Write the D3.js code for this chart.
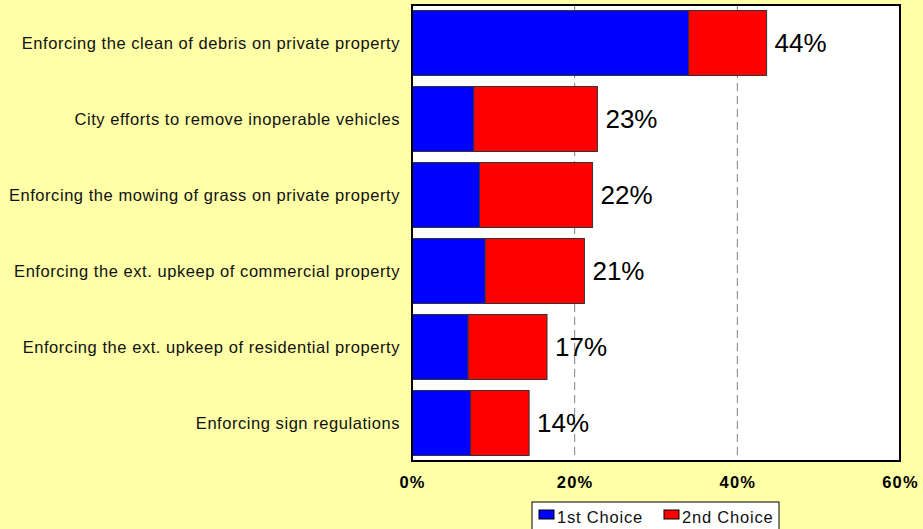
<!DOCTYPE html>
<html>
<head>
<meta charset="utf-8">
<script src="https://cdn.jsdelivr.net/npm/d3@7/dist/d3.min.js"></script>
<style>
  html, body { margin: 0; padding: 0; background: #FFFFA8; }
  svg { display: block; }
  text { font-family: "Liberation Sans", Arial, sans-serif; }
</style>
</head>
<body>
<svg id="chart" width="923" height="529"></svg>
<script>
// Priorities for code enforcement: share of respondents naming each item
const categories = [
  "Enforcing the clean of debris on private property",
  "City efforts to remove inoperable vehicles",
  "Enforcing the mowing of grass on private property",
  "Enforcing the ext. upkeep of commercial property",
  "Enforcing the ext. upkeep of residential property",
  "Enforcing sign regulations"
];
const firstChoice  = [34.0, 7.6, 8.3, 9.0, 6.9, 7.2];
const secondChoice = [9.6, 15.2, 13.9, 12.2, 9.7, 7.2];
const seriesNames  = ["1st Choice", "2nd Choice"];
const seriesColors = ["#0000FF", "#FF0000"];
const xTicks = [0, 20, 40, 60];

const svg = d3.select("#chart");
const W = 923, H = 529;
const plot = { left: 412, right: 900, top: 5, bottom: 461 };

svg.append("rect").attr("width", W).attr("height", H).attr("fill", "#FFFFA8");

const x = d3.scaleLinear().domain([0, 60]).range([plot.left, plot.right]);
const y = d3.scaleBand().domain(categories)
  .range([plot.top, plot.bottom])
  .paddingInner(0.145).paddingOuter(0.0725);

// plot background
svg.append("rect")
  .attr("x", plot.left).attr("y", plot.top)
  .attr("width", plot.right - plot.left).attr("height", plot.bottom - plot.top)
  .attr("fill", "#FFFFFF");

// dashed vertical gridlines
svg.append("g").selectAll("line")
  .data(xTicks.filter(t => t > 0 && t < 60))
  .join("line")
  .attr("x1", d => x(d)).attr("x2", d => x(d))
  .attr("y1", plot.top).attr("y2", plot.bottom)
  .attr("stroke", "#808080").attr("stroke-width", 1)
  .attr("stroke-dasharray", "8,5");

// stacked bars
const rows = categories.map((c, i) => ({ cat: c, v: [firstChoice[i], secondChoice[i]] }));
const stackData = rows.map(r => ({ cat: r.cat, s0: r.v[0], s1: r.v[1] }));
const stacked = d3.stack().keys(["s0", "s1"])(stackData);

svg.append("g").selectAll("g")
  .data(stacked)
  .join("g")
  .attr("fill", (d, i) => seriesColors[i])
  .selectAll("rect")
  .data(d => d)
  .join("rect")
  .attr("x", d => x(d[0]))
  .attr("width", d => x(d[1]) - x(d[0]))
  .attr("y", d => y(d.data.cat))
  .attr("height", y.bandwidth())
  .attr("stroke", "#333333").attr("stroke-width", 1);

// total labels at bar ends
svg.append("g").selectAll("text")
  .data(rows)
  .join("text")
  .attr("x", d => x(d.v[0] + d.v[1]) + 8)
  .attr("y", d => y(d.cat) + y.bandwidth() / 2)
  .attr("dy", "0.36em")
  .attr("font-size", 26)
  .attr("fill", "#000")
  .text(d => Math.round(d.v[0] + d.v[1]) + "%");

// category labels
svg.append("g").selectAll("text")
  .data(categories)
  .join("text")
  .attr("x", plot.left - 12)
  .attr("y", d => y(d) + y.bandwidth() / 2)
  .attr("dy", "0.36em")
  .attr("text-anchor", "end")
  .attr("font-size", 16.5)
  .attr("letter-spacing", "0.55px")
  .attr("fill", "#111")
  .text(d => d);

// plot frame
svg.append("rect")
  .attr("x", plot.left).attr("y", plot.top)
  .attr("width", plot.right - plot.left).attr("height", plot.bottom - plot.top)
  .attr("fill", "none").attr("stroke", "#000").attr("stroke-width", 2);

// x axis tick labels
const xAxis = d3.axisBottom(x).tickValues(xTicks).tickFormat(d => d + "%").tickSize(0).tickPadding(0);
const gx = svg.append("g").attr("transform", `translate(0,${488})`).call(xAxis);
gx.select(".domain").remove();
gx.selectAll("text")
  .attr("dy", 0).attr("y", 0)
  .attr("font-size", 16.5).attr("font-weight", "bold")
  .attr("letter-spacing", "1.2px")
  .attr("font-family", "'Liberation Sans', Arial, sans-serif")
  .attr("fill", "#000");

// legend
const lg = svg.append("g");
lg.append("rect").attr("x", 532).attr("y", 502).attr("width", 247).attr("height", 32)
  .attr("fill", "#fff").attr("stroke", "#000").attr("stroke-width", 1);
const legendX = [539, 664];
seriesNames.forEach((name, i) => {
  lg.append("rect").attr("x", legendX[i]).attr("y", 510).attr("width", 15).attr("height", 9)
    .attr("fill", seriesColors[i]).attr("stroke", "#000").attr("stroke-width", 1);
  lg.append("text").attr("x", legendX[i] + 18).attr("y", 522.5)
    .attr("font-size", 16.5).attr("letter-spacing", "0.8px").attr("fill", "#111")
    .text(name);
});
</script>
</body>
</html>
